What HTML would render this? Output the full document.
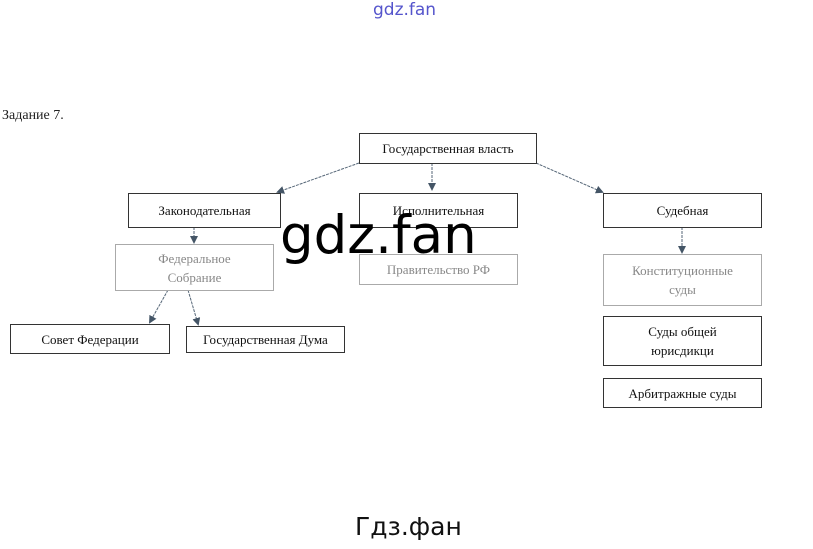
<!DOCTYPE html>
<html><head><meta charset="utf-8"><style>
body{margin:0;width:813px;height:549px;background:#fff;position:relative;overflow:hidden;font-family:"Liberation Serif",serif;}
.b{position:absolute;box-sizing:border-box;border:1px solid #333;display:flex;align-items:center;justify-content:center;text-align:center;font-size:13px;line-height:19px;color:#111;background:#fff;}
.l{border-color:#aaa;color:#888;}
.t{position:absolute;}
</style></head><body>
<div class="t" style="left:373px;top:0px;font-family:'DejaVu Sans',sans-serif;font-size:17px;color:#5555cc;">gdz.fan</div>
<div class="t" style="left:2px;top:108px;font-size:14px;color:#222;">Задание 7.</div>
<svg width="813" height="549" style="position:absolute;left:0;top:0">
<defs><marker id="a" markerWidth="8" markerHeight="8" refX="6" refY="4" orient="auto"><path d="M0,0 L8,4 L0,8z" fill="#456"/></marker></defs>
<g stroke="#567" stroke-width="1" stroke-dasharray="3,1" fill="none" marker-end="url(#a)">
<line x1="359" y1="163" x2="278" y2="192"/>
<line x1="432" y1="163" x2="432" y2="189"/>
<line x1="536" y1="163" x2="602" y2="192"/>
<line x1="194" y1="227" x2="194" y2="242"/>
<line x1="682" y1="227" x2="682" y2="252"/>
<line x1="168" y1="290" x2="150" y2="322"/>
<line x1="188" y1="290" x2="198" y2="324"/>
</g></svg>
<div class="b" style="left:359px;top:133px;width:178px;height:31px;">Государственная власть</div>
<div class="b" style="left:128px;top:193px;width:153px;height:35px;">Законодательная</div>
<div class="b" style="left:359px;top:193px;width:159px;height:35px;">Исполнительная</div>
<div class="b" style="left:603px;top:193px;width:159px;height:35px;">Судебная</div>
<div class="b l" style="left:115px;top:244px;width:159px;height:47px;">Федеральное<br>Собрание</div>
<div class="b l" style="left:359px;top:254px;width:159px;height:31px;">Правительство РФ</div>
<div class="b l" style="left:603px;top:254px;width:159px;height:52px;">Конституционные<br>суды</div>
<div class="b" style="left:603px;top:316px;width:159px;height:50px;">Суды общей<br>юрисдикци</div>
<div class="b" style="left:603px;top:378px;width:159px;height:30px;">Арбитражные суды</div>
<div class="b" style="left:10px;top:324px;width:160px;height:30px;">Совет Федерации</div>
<div class="b" style="left:186px;top:326px;width:159px;height:27px;">Государственная Дума</div>
<div class="t" style="left:280px;top:201px;font-family:'DejaVu Sans',sans-serif;font-size:53px;color:#000;line-height:70px;">gdz.fan</div>
<div class="t" style="left:355px;top:512px;font-family:'DejaVu Sans',sans-serif;font-size:25px;color:#111;">Гдз.фан</div>
</body></html>
